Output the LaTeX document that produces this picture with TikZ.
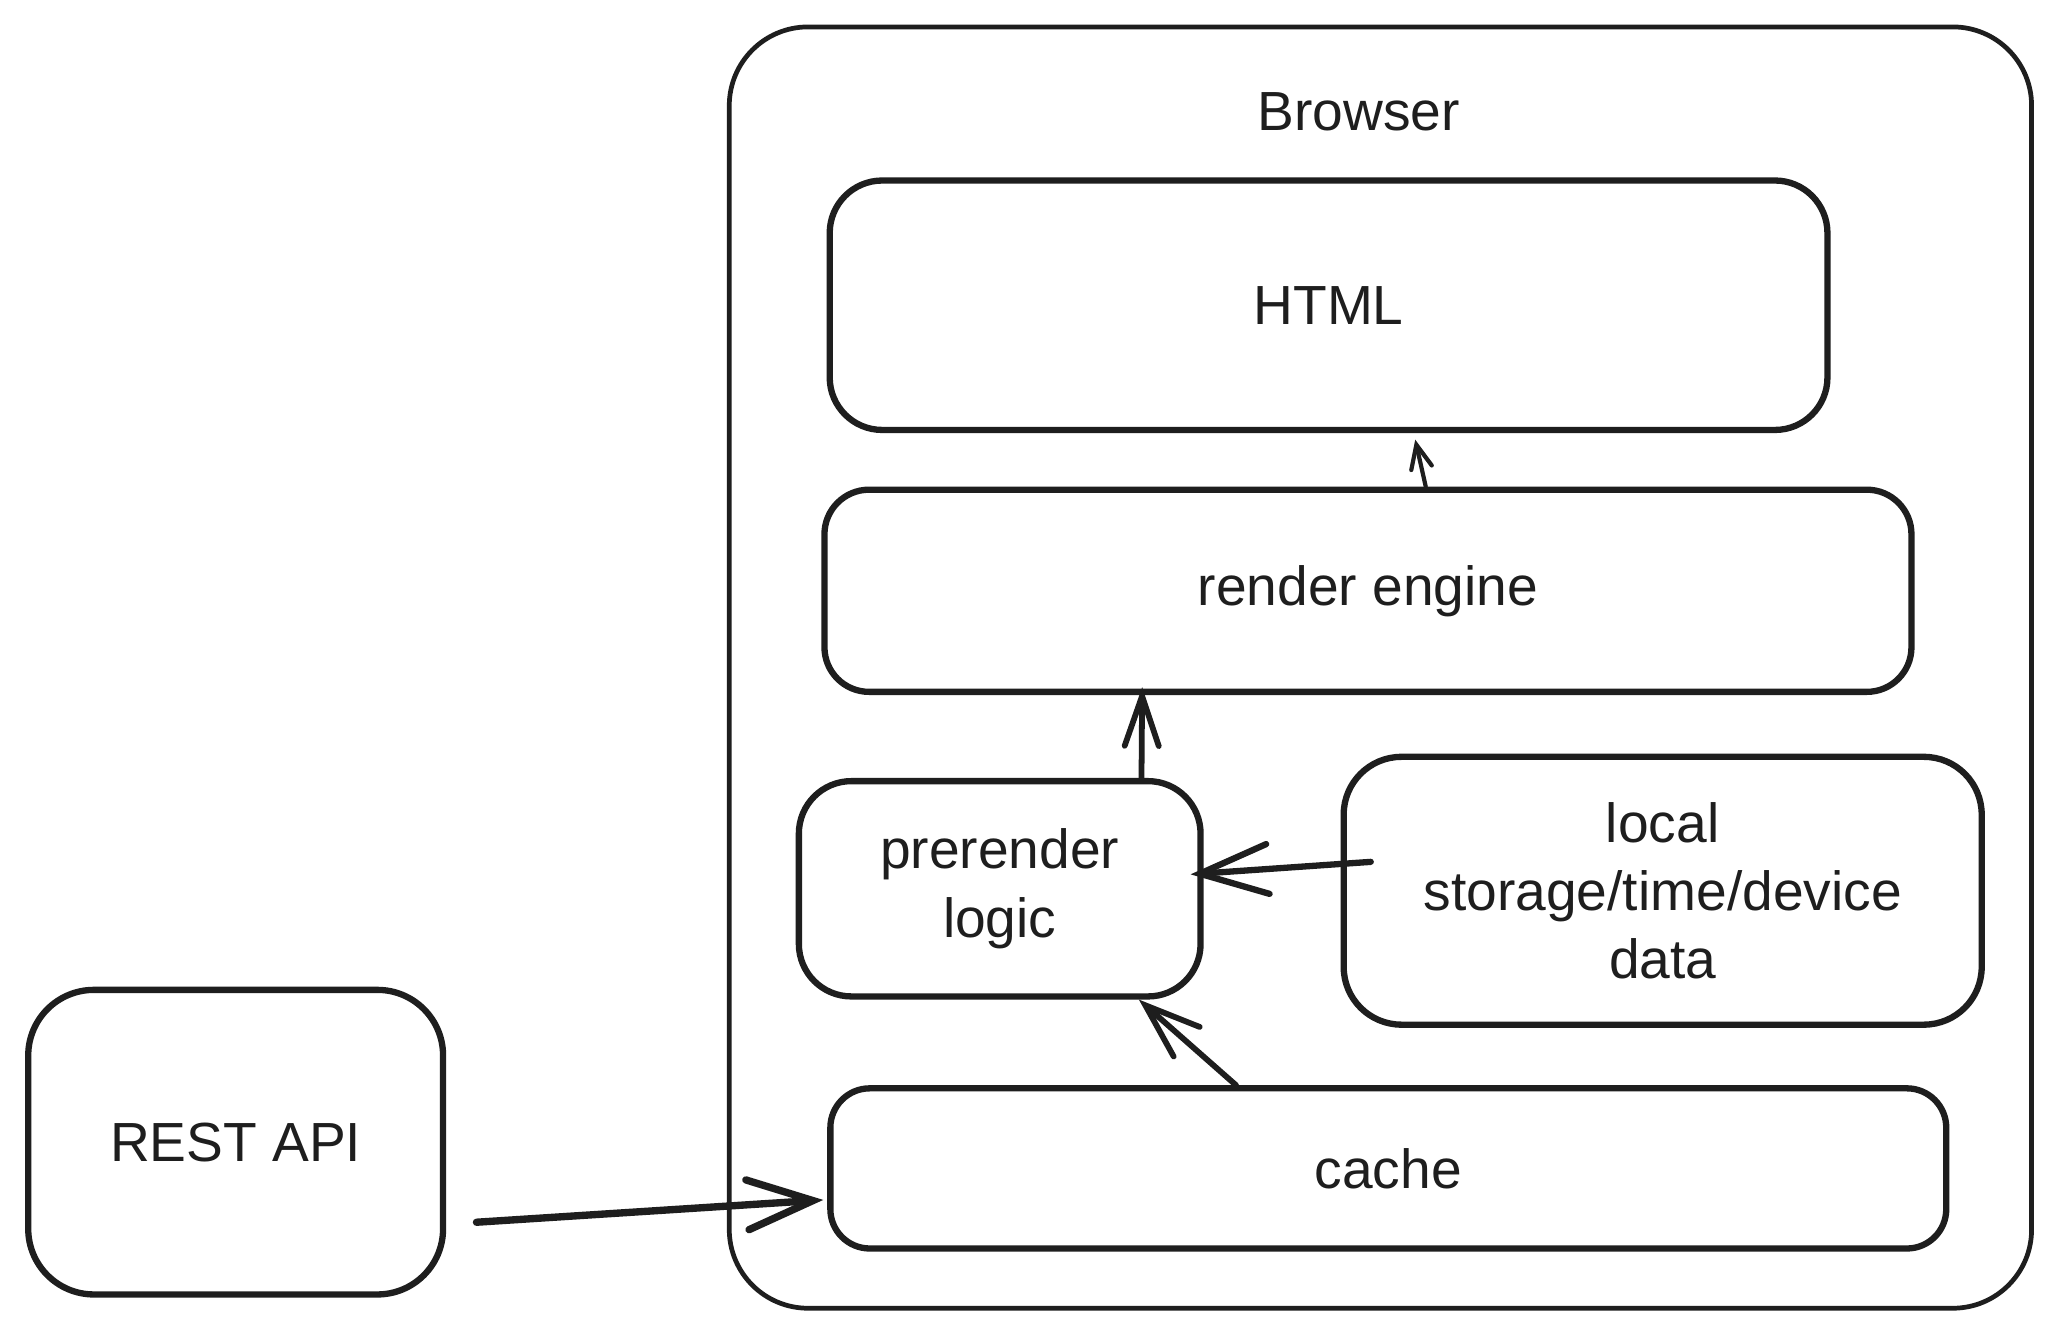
\documentclass[tikz,border=0pt]{standalone}
\usepackage{fontspec}
\setmainfont{Liberation Sans}
\usetikzlibrary{arrows.meta}
\definecolor{ink}{HTML}{1E1E1E}
\begin{document}
\begin{tikzpicture}[x=0.5pt,y=-0.5pt,
  box/.style={draw=ink, line width=2.4pt, rounded corners=#1, inner sep=0pt, align=center,
    text=ink, font=\fontsize{21}{26}\selectfont},
  box/.default=18pt,
  conn/.style={draw=ink, line width=2.2pt, line cap=round}
]
\useasboundingbox (0,0) rectangle (1560,1011);
\fill[white] (0,0) rectangle (1560,1011);

\node[box=30pt, line width=1.8pt, minimum width=496pt, minimum height=488pt] (browser) at (1051.5,508.5) {};
\node[text=ink, font=\fontsize{21}{26}\selectfont] (browserlbl) at (1035,85) {Browser};

\node[box=20pt, minimum width=380pt, minimum height=95pt] (html) at (1012,232.5) {HTML};
\node[box=17pt, minimum width=414pt, minimum height=77pt] (render) at (1042,450) {render engine};
\node[box=20pt, minimum width=153pt, minimum height=82pt] (prerender) at (761.5,677) {prerender\\logic};
\node[box=22pt, minimum width=243pt, minimum height=102pt] (local) at (1266.5,678.5) {local\\storage/time/device\\data};
\node[box=15pt, minimum width=425pt, minimum height=61pt] (cache) at (1057.5,890) {cache};
\node[box=25pt, minimum width=158pt, minimum height=116pt] (rest) at (179.5,870) {REST API};

\draw[conn, line width=1.6pt, -{Straight Barb[length=9pt,width=8pt,line cap=round]}]
  ([xshift=22pt]render.north) -- ([xshift=33pt,yshift=-2.5pt]html.south);
\draw[conn, -{Straight Barb[length=19pt,width=13pt,line cap=round]}]
  ([xshift=54pt]prerender.north) -- ([xshift=-86pt,yshift=3pt]render.south);
\draw[conn, line width=2.4pt, -{Straight Barb[length=26pt,width=19pt,line cap=round]}]
  ([xshift=11.5pt,yshift=11pt]local.west) -- ([xshift=-5pt,yshift=5.5pt]prerender.east);
\draw[conn, -{Straight Barb[length=21pt,width=15pt,line cap=round]}]
  ([xshift=-58pt]cache.north) -- ([xshift=53pt]prerender.south);
\draw[conn, line width=2.8pt, -{Straight Barb[length=25pt,width=19pt,line cap=round]}]
  ([xshift=11.5pt,yshift=-30.5pt]rest.east) -- ([xshift=-1.5pt,yshift=-12pt]cache.west);
\end{tikzpicture}
\end{document}
